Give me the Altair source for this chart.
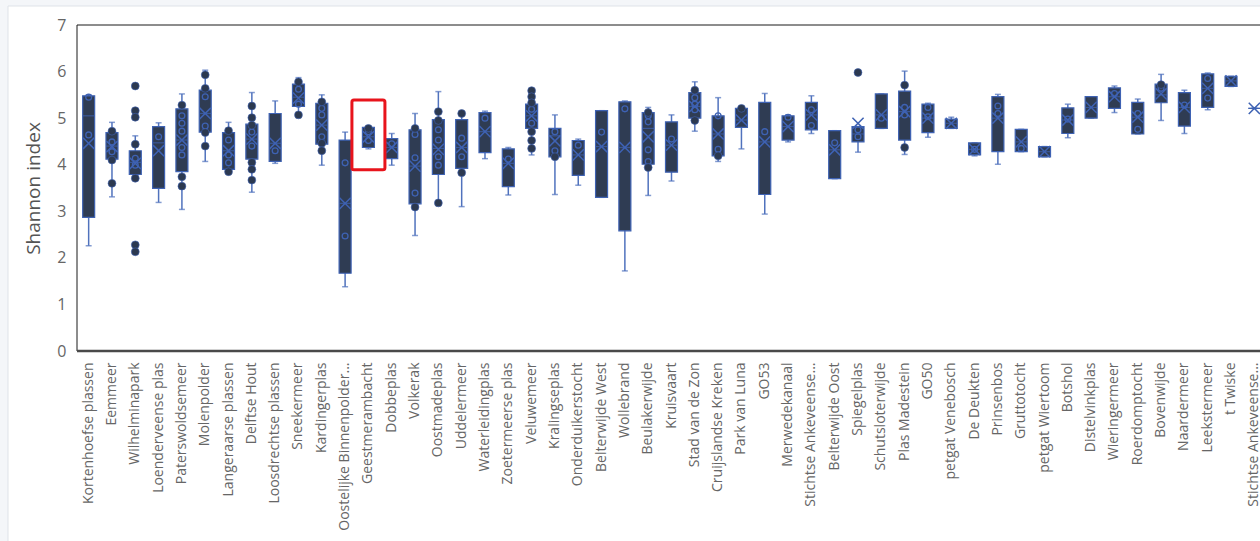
import json
import altair as alt
import pandas as pd

# Sites along the x axis (two different Stichtse Ankeveense sites share the truncated label)
sites = [
    "Kortenhoefse plassen", "Eemmeer", "Wilhelminapark", "Loenderveense plas",
    "Paterswoldsemeer", "Molenpolder", "Langeraarse plassen", "Delftse Hout",
    "Loosdrechtse plassen", "Sneekermeer", "Kardingerplas", "Oostelijke Binnenpolder...",
    "Geestmerambacht", "Dobbeplas", "Volkerak", "Oostmadeplas", "Uddelermeer",
    "Waterleidingplas", "Zoetermeerse plas", "Veluwemeer", "Kralingseplas",
    "Onderduikerstocht", "Belterwijde West", "Wollebrand", "Beulakerwijde", "Kruisvaart",
    "Stad van de Zon", "Cruijslandse Kreken", "Park van Luna", "GO53", "Merwedekanaal",
    "Stichtse Ankeveense...", "Belterwijde Oost", "Spiegelplas", "Schutsloterwijde",
    "Plas Madestein", "GO50", "petgat Venebosch", "De Deukten", "Prinsenbos",
    "Gruttotocht", "petgat Wiertoom", "Botshol", "Distelvinkplas", "Wieringermeer",
    "Roerdomptocht", "Bovenwijde", "Naardermeer", "Leekstermeer", "t Twiske",
    "Stichtse Ankeveense...",
]

# Box statistics of the Shannon index per site
lows = [2.26, 3.31, 3.71, 3.19, 3.04, 4.07, 3.83, 3.41, 4.03, 5.07, 3.99, 1.38, 4.34,
        3.99, 2.48, 3.18, 3.10, 4.13, 3.35, 4.21, 3.36, 3.56, 3.30, 1.72, 3.34, 3.65,
        4.72, 4.07, 4.34, 2.94, 4.49, 4.67, 3.70, 4.27, 4.78, 4.22, 4.59, 4.78, 4.19,
        4.01, 4.28, 4.17, 4.58, 5.00, 5.12, 4.66, 4.95, 4.67, 5.18, 5.68, 5.21]
q1s = [2.87, 4.12, 3.79, 3.49, 3.85, 4.70, 3.90, 4.12, 4.07, 5.25, 4.44, 1.67, 4.37,
       4.13, 3.16, 3.79, 3.92, 4.26, 3.53, 4.78, 4.17, 3.77, 3.30, 2.58, 4.01, 3.84,
       5.00, 4.19, 4.80, 3.36, 4.53, 4.75, 3.70, 4.49, 4.78, 4.53, 4.69, 4.78, 4.21,
       4.28, 4.28, 4.17, 4.67, 5.00, 5.21, 4.66, 5.33, 4.83, 5.23, 5.68, 5.21]
medians = [5.05, 4.40, 4.05, 4.47, 4.53, 5.10, 4.30, 4.55, 4.46, 5.45, 4.85, 3.17, 4.60,
           4.37, 3.97, 4.35, 4.37, 4.71, 4.03, 5.05, 4.62, 4.21, 4.39, 4.37, 4.78, 4.42,
           5.25, 4.66, 4.96, 4.49, 4.82, 5.07, 4.32, 4.66, 5.07, 5.14, 5.00, 4.89, 4.33,
           5.00, 4.49, 4.28, 4.96, 5.23, 5.46, 5.02, 5.50, 5.23, 5.64, 5.80, 5.21]
q3s = [5.48, 4.69, 4.30, 4.82, 5.20, 5.60, 4.69, 4.87, 5.10, 5.73, 5.32, 4.53, 4.80,
       4.56, 4.75, 4.97, 4.97, 5.12, 4.34, 5.30, 4.78, 4.52, 5.16, 5.35, 5.12, 4.92,
       5.55, 5.05, 5.21, 5.34, 5.05, 5.34, 4.73, 4.82, 5.52, 5.58, 5.30, 4.98, 4.47,
       5.46, 4.76, 4.39, 5.22, 5.46, 5.65, 5.34, 5.73, 5.55, 5.95, 5.90, 5.21]
highs = [5.50, 4.91, 4.62, 4.90, 5.52, 6.03, 4.91, 5.55, 5.37, 5.87, 5.50, 4.70, 4.82,
         4.67, 5.10, 5.57, 5.10, 5.15, 4.37, 5.60, 5.07, 4.55, 5.16, 5.37, 5.23, 5.07,
         5.78, 5.44, 5.25, 5.53, 5.07, 5.48, 4.73, 4.82, 5.52, 6.01, 5.32, 5.02, 4.47,
         5.51, 4.76, 4.39, 5.30, 5.46, 5.69, 5.41, 5.94, 5.60, 5.97, 5.90, 5.21]
means = [4.46, 4.39, 4.03, 4.30, 4.53, 5.10, 4.30, 4.55, 4.46, 5.43, 4.85, 3.17, 4.60,
         4.37, 3.97, 4.33, 4.37, 4.71, 4.03, 5.05, 4.51, 4.21, 4.39, 4.37, 4.60, 4.42,
         5.25, 4.66, 4.96, 4.49, 4.82, 5.07, 4.32, 4.89, 5.07, 5.14, 5.00, 4.89, 4.33,
         5.00, 4.49, 4.28, 4.96, 5.23, 5.46, 5.02, 5.52, 5.23, 5.64, 5.80, 5.21]

# Points drawn as filled dots
filled_points = [
    [], [4.72, 4.10, 3.60], [5.69, 5.16, 5.02, 4.44, 3.71, 2.28, 2.13], [],
    [5.28, 3.74, 3.54], [5.93, 5.64, 4.69, 4.40], [4.73, 3.85],
    [5.26, 5.01, 4.85, 4.05, 3.90, 3.67], [], [5.78, 5.07], [5.35, 4.46, 4.30], [],
    [4.78], [], [4.78, 3.09], [5.14, 4.95, 3.18], [5.10, 3.83], [], [],
    [5.59, 5.46, 5.33, 4.71, 4.52, 4.35], [4.17], [], [], [], [5.12, 3.94], [],
    [5.60, 4.95], [4.19], [5.21], [], [], [], [], [5.98], [], [5.71, 4.37], [], [],
    [], [], [], [], [], [], [], [], [5.72], [], [], [], [],
]

# Points drawn as open circles
open_points = [
    [5.45, 4.64], [4.49, 4.28], [4.14, 3.99], [4.60], [5.05, 4.89, 4.72, 4.37, 4.21],
    [5.46, 4.83], [4.53, 4.21, 4.04], [4.70, 4.40], [4.30], [5.62, 5.30],
    [5.21, 5.07, 4.60], [4.04, 2.47], [4.71, 4.52], [4.45], [4.65, 4.15, 3.39],
    [4.75, 4.53, 4.17, 3.99], [4.57, 4.17], [5.00], [4.12], [5.19, 4.89], [4.71, 4.30],
    [4.42], [4.70], [5.20], [5.05, 4.92, 4.32, 4.07], [4.55], [5.44, 5.30, 5.18],
    [5.05, 4.33], [], [4.71], [5.02], [5.18, 4.84], [4.47], [4.75, 4.60], [5.00],
    [5.23, 5.07], [5.23, 5.03], [], [4.33], [5.26, 5.10], [4.35], [], [4.98], [],
    [5.53], [5.10, 4.76], [5.64], [5.28], [5.85, 5.43], [], [],
]

BOX_FILL = "#2f3c53"
BLUE = "#3e62b3"
WHISKER = "#5072bd"
DOT = "#2c3950"
FONT = "Open Sans"

boxes = pd.DataFrame({
    "idx": list(range(len(sites))),
    "site": sites,
    "low": lows, "q1": q1s, "median": medians, "q3": q3s, "high": highs, "mean": means,
})
filled_df = pd.DataFrame(
    [{"idx": i, "value": v} for i, vals in enumerate(filled_points) for v in vals]
)
open_df = pd.DataFrame(
    [{"idx": i, "value": v} for i, vals in enumerate(open_points) for v in vals]
)

label_expr = json.dumps(sites) + "[datum.value]"
x_enc = alt.X(
    "idx:O",
    scale=alt.Scale(domain=list(range(len(sites))), range=[0, 1189],
                    paddingInner=0, paddingOuter=0),
    axis=alt.Axis(title=None, labelExpr=label_expr, labelAngle=-90, labelAlign="right",
                  labelBaseline="middle", labelPadding=11, labelFontSize=14,
                  labelColor="#666666", labelFont=FONT, labelLimit=0,
                  ticks=False, domain=False, grid=False, zindex=1),
)
y_scale = alt.Scale(domain=[0, 7], nice=False)
y_enc = alt.Y(
    "low:Q", scale=y_scale,
    axis=alt.Axis(title="Shannon index", values=list(range(8)), labelFontSize=16,
                  labelColor="#666666", labelFont=FONT, labelPadding=11,
                  titleFont=FONT, titleFontSize=19, titleFontWeight="normal",
                  titleColor="#555555", titlePadding=13, ticks=False, domain=False,
                  grid=False, zindex=1),
)

one_row = alt.Data(values=[{"k": 0}])

card = alt.Chart(one_row).mark_rect(fill="white", stroke="#dfe3e8", strokeWidth=1).encode(
    x=alt.value(-69), x2=alt.value(1300), y=alt.value(-19), y2=alt.value(700)
)
frame = alt.Chart(one_row).mark_rect(fill=None, stroke="#1a1a1a", strokeWidth=1).encode(
    x=alt.value(0), x2=alt.value(1300), y=alt.value(0), y2=alt.value(326)
)
base_line = alt.Chart(one_row).mark_rule(color="#4a4a4a", strokeWidth=2.5).encode(
    x=alt.value(0), x2=alt.value(1300), y=alt.value(326)
)

base = alt.Chart(boxes)
whiskers = base.mark_rule(color=WHISKER, strokeWidth=1.5).encode(
    x=x_enc, y=y_enc, y2="high:Q"
)
cap_low = base.mark_tick(color=WHISKER, size=6, thickness=1.5).encode(
    x=x_enc, y=alt.Y("low:Q", scale=y_scale)
)
cap_high = base.mark_tick(color=WHISKER, size=6, thickness=1.5).encode(
    x=x_enc, y=alt.Y("high:Q", scale=y_scale)
)
box = base.mark_bar(size=12, fill=BOX_FILL, stroke=BLUE, strokeWidth=1.2).encode(
    x=x_enc, y=alt.Y("q1:Q", scale=y_scale), y2="q3:Q"
)
median = base.mark_tick(color=BLUE, size=12, thickness=1.2).encode(
    x=x_enc, y=alt.Y("median:Q", scale=y_scale)
)
mean_x = base.mark_point(
    shape="M-1,-1L1,1M-1,1L1,-1", size=125, filled=False, stroke=BLUE, strokeWidth=1.5,
    opacity=1,
).encode(x=x_enc, y=alt.Y("mean:Q", scale=y_scale))

open_marks = alt.Chart(open_df).mark_point(
    shape="circle", size=34, filled=False, stroke=BLUE, strokeWidth=1.3, opacity=1
).encode(x=x_enc, y=alt.Y("value:Q", scale=y_scale))

filled_marks = alt.Chart(filled_df).mark_circle(
    size=62, fill=DOT, stroke=BLUE, strokeWidth=0.6, opacity=1
).encode(x=x_enc, y=alt.Y("value:Q", scale=y_scale))

# Red outline around the Geestmerambacht box
highlight = alt.Chart(alt.Data(values=[{"idx": 12, "lo": 3.89, "hi": 5.39}])).mark_bar(
    size=33, fill="transparent", stroke="#e8141c", strokeWidth=3, cornerRadius=2
).encode(x=x_enc, y=alt.Y("lo:Q", scale=y_scale), y2="hi:Q")

chart = alt.layer(
    card, frame, whiskers, cap_low, cap_high, box, median, open_marks, mean_x,
    filled_marks, highlight, base_line,
).properties(
    width=1183, height=326, autosize="none",
    padding={"left": 77, "top": 25, "right": 0, "bottom": 190},
    background="#f4f6f9",
).configure_view(strokeWidth=0)

chart.save("out.html", embed_options={"renderer": "svg", "actions": False})
